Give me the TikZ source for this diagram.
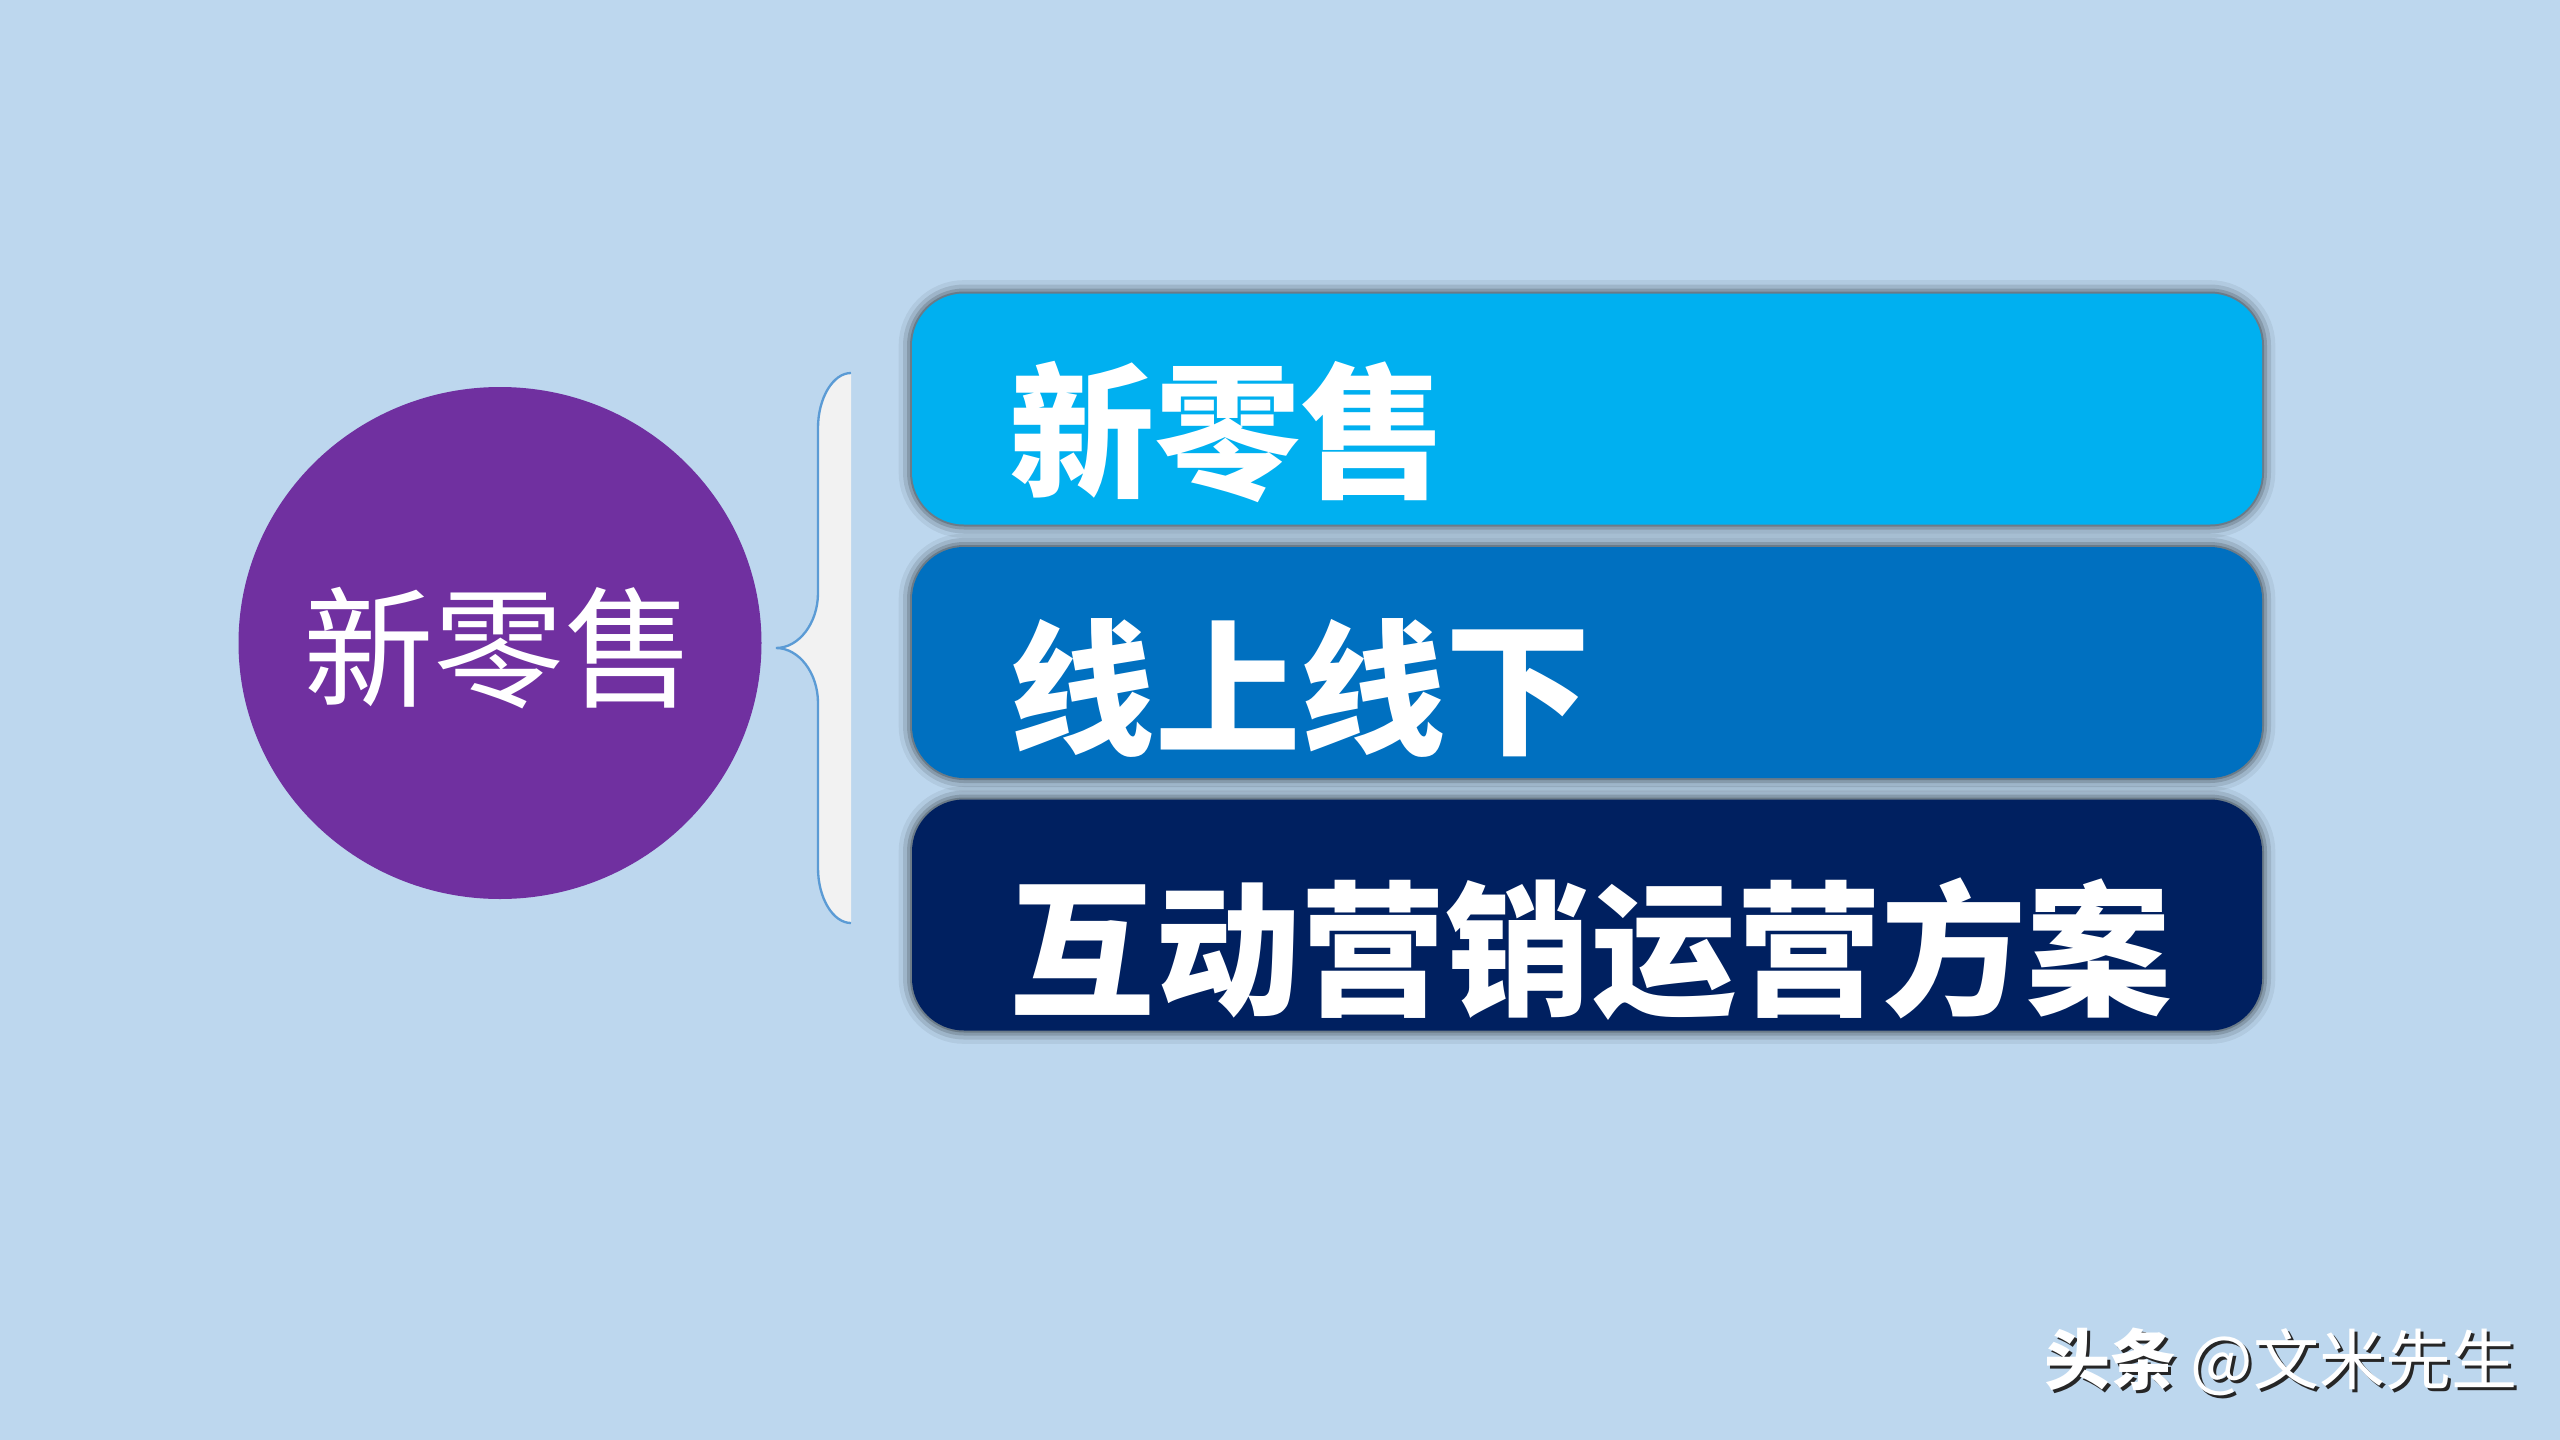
\documentclass[tikz,border=0pt]{standalone}
\usepackage{fontspec}
\newfontfamily\cjk{Noto Sans CJK SC}
\usetikzlibrary{shapes.geometric}
\definecolor{bgblue}{HTML}{BDD7EE}
\definecolor{boxa}{HTML}{00B0F0}
\definecolor{boxb}{HTML}{0070C0}
\definecolor{boxc}{HTML}{002060}
\definecolor{hubcol}{HTML}{7030A0}
\definecolor{bracestroke}{HTML}{5B9BD5}
\definecolor{bracefill}{HTML}{F2F2F2}
\tikzset{
  glow/.style={
    preaction={draw=black, line width=8pt, opacity=0.06},
    preaction={draw=black, line width=5.4pt, opacity=0.10},
    preaction={draw=black, line width=3pt, opacity=0.15},
    preaction={draw=black, line width=1.2pt, opacity=0.20}},
  bar/.style={glow, rectangle, rounded corners=15.6pt, minimum width=405pt,
    minimum height=69.3pt, inner sep=0pt, draw=none},
  bartext/.style={anchor=west, inner sep=0pt, text=white,
    font=\cjk\bfseries\fontsize{43.6pt}{52pt}\selectfont},
  hub/.style={ellipse, fill=hubcol, minimum width=156.9pt, minimum height=153.6pt,
    inner sep=0pt, text=white, font=\cjk\fontsize{39.2pt}{46pt}\selectfont},
  wmark/.style={inner sep=0pt, anchor=east, font=\cjk\fontsize{19.8pt}{24pt}\selectfont}
}
\begin{document}
\begin{tikzpicture}[x=0.3pt, y=-0.3pt]
\useasboundingbox (0,0) rectangle (2560,1440);
\fill[bgblue] (0,0) rectangle (2560,1440);

% hub circle
\node[hub] (hub) at (500,643) {};
\node[inner sep=0pt, text=white, font=\cjk\fontsize{39.2pt}{46pt}\selectfont] (hubtext) at (499,648) {新零售};

% brace
\coordinate (bt) at (851,373);
\coordinate (btip) at (776,648);
\coordinate (bb) at (851,923);
\fill[bracefill] (bt) .. controls (833,373) and (818,398) .. (818,428)
  -- (818,593) .. controls (818,623) and (799,648) .. (btip)
  .. controls (799,648) and (818,673) .. (818,703)
  -- (818,868) .. controls (818,898) and (833,923) .. (bb) -- cycle;
\draw[bracestroke, line width=0.7pt] (bt) .. controls (833,373) and (818,398) .. (818,428)
  -- (818,593) .. controls (818,623) and (799,648) .. (btip)
  .. controls (799,648) and (818,673) .. (818,703)
  -- (818,868) .. controls (818,898) and (833,923) .. (bb);

% bars
\node[bar, fill=boxa] (b1) at (1587,409) {};
\node[bar, fill=boxb] (b2) at (1587,662.5) {};
\node[bar, fill=boxc] (b3) at (1587,915) {};

\node[bartext] (t1) at (1009,432) {新零售};
\node[bartext] (t2) at (1009,688) {线上线下};
\node[bartext] (t3) at (1009,949) {互动营销运营方案};

% watermark
\node[wmark, text=black!85] (wms) at (2521,1365) {{\bfseries 头条} @文米先生};
\node[wmark, text=white] (wm) at (2518,1362) {{\bfseries 头条} @文米先生};
\end{tikzpicture}
\end{document}
